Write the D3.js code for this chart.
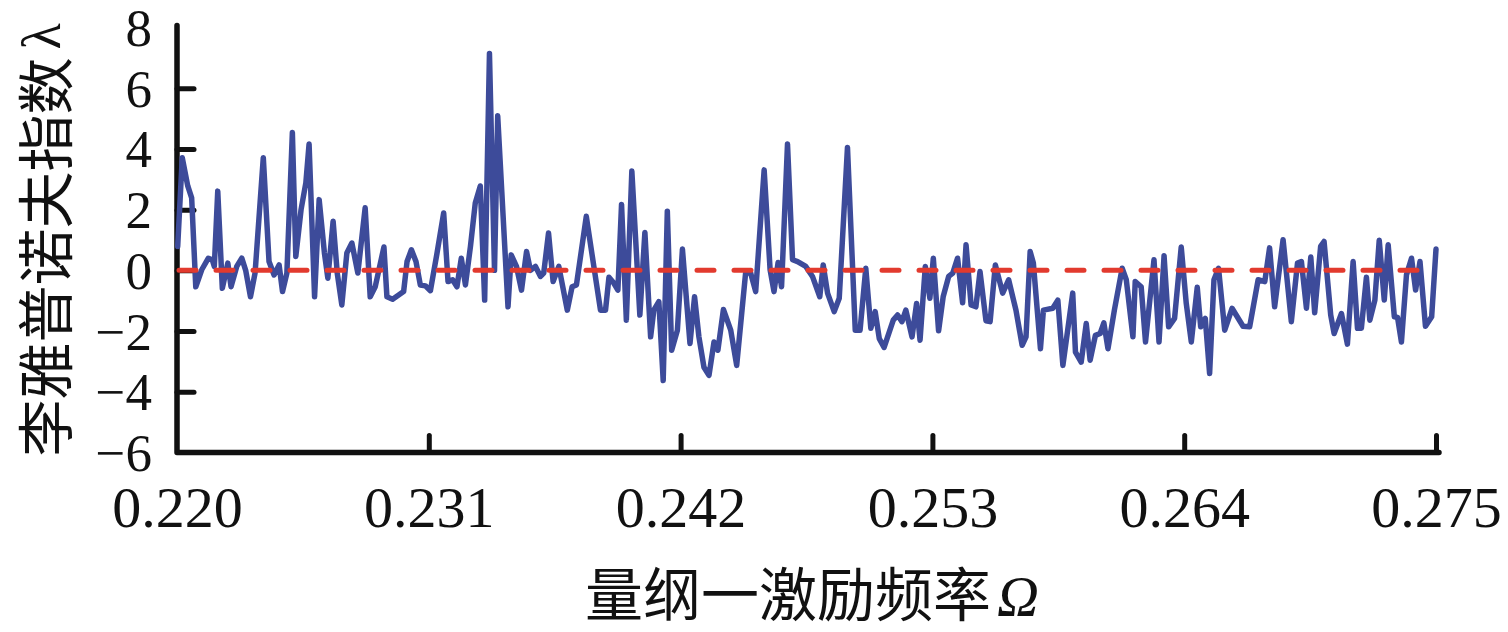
<!DOCTYPE html>
<html>
<head>
<meta charset="utf-8">
<script src="https://cdn.jsdelivr.net/npm/d3@7"></script>
<style>
  html, body { margin: 0; padding: 0; background: #fff; }
  svg { display: block; }
  .serif { font-family: "Liberation Serif", "Times New Roman", "DejaVu Serif", serif; }
  .cjk { font-family: "Noto Sans CJK SC", sans-serif; }
</style>
</head>
<body>
<svg id="chart" width="1508" height="632"></svg>
<script>
// ---- data ----
const omega = [
  0.22003,0.22023,0.22047,0.22064,0.22082,0.22108,0.22137,0.22154,0.22163,0.22178,
  0.22198,0.22222,0.22236,0.22261,0.22283,0.22300,0.22321,0.22341,0.22377,0.22402,
  0.22424,0.22446,0.22461,0.22480,0.22504,0.22519,0.22542,0.22563,0.22577,0.22601,
  0.22621,0.22644,0.22659,0.22682,0.22700,0.22720,0.22742,0.22764,0.22790,0.22822,
  0.22844,0.22866,0.22904,0.22917,0.22942,0.22990,0.23005,0.23024,0.23044,0.23063,
  0.23085,0.23107,0.23136,0.23165,0.23184,0.23204,0.23223,0.23242,0.23260,0.23282,
  0.23303,0.23325,0.23344,0.23365,0.23387,0.23401,0.23446,0.23460,0.23483,0.23505,
  0.23527,0.23544,0.23566,0.23588,0.23602,0.23623,0.23643,0.23668,0.23705,0.23726,
  0.23745,0.23788,0.23821,0.23850,0.23872,0.23887,0.23908,0.23926,0.23942,0.23963,
  0.23987,0.24022,0.24044,0.24069,0.24083,0.24105,0.24124,0.24142,0.24161,0.24186,
  0.24208,0.24241,0.24261,0.24280,0.24302,0.24324,0.24346,0.24363,0.24387,0.24419,
  0.24445,0.24484,0.24506,0.24528,0.24565,0.24591,0.24608,0.24626,0.24641,0.24667,
  0.24689,0.24711,0.24747,0.24776,0.24808,0.24823,0.24842,0.24871,0.24893,0.24929,
  0.24963,0.24984,0.25009,0.25031,0.25050,0.25068,0.25089,0.25129,0.25148,0.25167,
  0.25184,0.25211,0.25231,0.25246,0.25269,0.25289,0.25304,0.25327,0.25347,0.25371,
  0.25389,0.25410,0.25432,0.25447,0.25469,0.25490,0.25508,0.25534,0.25552,0.25575,
  0.25607,0.25633,0.25665,0.25692,0.25709,0.25727,0.25741,0.25772,0.25785,0.25826,
  0.25848,0.25870,0.25913,0.25925,0.25950,0.25972,0.25989,0.26012,0.26033,0.26049,
  0.26067,0.26095,0.26129,0.26147,0.26176,0.26186,0.26212,0.26231,0.26268,0.26290,
  0.26312,0.26332,0.26358,0.26387,0.26409,0.26431,0.26457,0.26472,0.26492,0.26511,
  0.26530,0.26550,0.26577,0.26609,0.26657,0.26686,0.26723,0.26752,0.26773,0.26795,
  0.26832,0.26868,0.26895,0.26912,0.26934,0.26953,0.26970,0.26996,0.27011,0.27040,
  0.27055,0.27087,0.27113,0.27138,0.27157,0.27174,0.27196,0.27211,0.27233,0.27252,
  0.27274,0.27291,0.27318,0.27332,0.27349,0.27371,0.27393,0.27411,0.27430,0.27454,
  0.27481,0.27500
];
const lambda = [
  0.79,3.71,2.78,2.39,-0.54,0.02,0.40,0.35,0.13,2.61,
  -0.59,0.24,-0.54,0.13,0.40,0.00,-0.87,-0.09,3.71,0.29,
  -0.15,0.18,-0.70,-0.09,4.54,0.46,2.00,2.89,4.16,-0.87,
  2.33,0.57,-0.26,1.62,-0.09,-1.14,0.57,0.90,-0.09,2.06,
  -0.87,-0.54,0.77,-0.87,-0.95,-0.70,0.29,0.68,0.29,-0.48,
  -0.51,-0.67,0.57,1.89,-0.37,-0.31,-0.54,0.40,-0.48,0.79,
  2.22,2.78,-0.98,7.14,0.00,5.09,-1.20,0.51,0.13,-0.65,
  0.62,0.00,0.13,-0.20,-0.09,1.23,-0.37,0.13,-1.31,-0.54,
  -0.48,1.78,0.13,-1.31,-1.31,-0.23,-0.42,-0.65,2.17,-1.64,
  3.27,-1.47,1.25,-2.19,-1.31,-1.03,-3.63,1.95,-2.63,-1.97,
  0.70,-2.41,-0.87,-2.19,-3.19,-3.46,-2.36,-2.63,-1.29,-1.97,
  -3.13,-0.09,-0.09,-0.70,3.31,0.02,-0.70,0.26,-0.54,4.16,
  0.35,0.29,0.13,-0.20,-0.87,0.18,-0.75,-1.36,-0.92,4.05,
  -1.97,-1.97,0.07,-1.91,-1.36,-2.25,-2.54,-1.64,-1.47,-1.69,
  -1.31,-2.19,-1.09,-2.30,0.13,-0.92,0.40,-1.99,-0.87,-0.20,
  -0.09,0.40,-1.07,0.84,-1.14,-1.20,-0.04,-1.66,-1.69,0.18,
  -0.75,-0.31,-1.31,-2.47,-2.19,0.62,0.24,-2.58,-1.31,-1.25,
  -0.98,-3.13,-0.75,-2.69,-3.02,-1.75,-2.96,-2.14,-2.08,-1.73,
  -2.58,-1.31,0.07,-0.31,-2.19,-0.37,-0.54,-2.36,0.35,-2.36,
  0.48,-1.86,-1.58,0.77,-1.09,-2.36,-0.56,-1.86,-1.58,-3.40,
  -0.31,0.07,-1.97,-1.25,-1.84,-1.86,-0.31,-0.37,0.74,-1.20,
  1.01,-1.69,0.24,0.29,-1.25,0.44,-1.40,0.79,0.95,-1.47,
  -2.08,-1.42,-2.43,0.29,-1.91,-1.91,-0.23,-1.64,-0.98,0.99,
  -0.98,0.84,-1.53,-1.55,-2.36,-0.15,0.40,-0.65,0.29,-1.84,
  -1.53,0.70
];
const xTicks = [0.220, 0.231, 0.242, 0.253, 0.264, 0.275];
const yTicks = [-6, -4, -2, 0, 2, 4, 6, 8];
const referenceLevel = [0];
const xTitle = "量纲一激励频率";
const xSymbol = "Ω";
const yTitle = "李雅普诺夫指数";
const ySymbol = "λ";

// ---- drawing ----
const svg = d3.select("#chart");
const x = d3.scaleLinear().domain([0.220, 0.275]).range([177, 1436]);
const y = d3.scaleLinear().domain([-6, 8]).range([452.5, 27.5]);

const fmtY = v => (v < 0 ? "\u2212" : "") + Math.abs(v);

// y axis
const gy = svg.append("g").attr("transform", `translate(${x(0.220)},0)`)
  .call(d3.axisLeft(y).tickValues(yTicks).tickFormat(fmtY)
        .tickSize(-17).tickSizeOuter(0).tickPadding(25));
gy.attr("font-family", null).attr("font-size", null);
gy.select(".domain").remove();
gy.selectAll(".tick line").attr("stroke", "#111").attr("stroke-width", 5)
  .attr("stroke-linecap", "round")
  .filter(d => d === 8 || d === -6).remove();
gy.selectAll(".tick text").attr("class", "serif")
  .style("font-size", "53px").attr("fill", "#111").attr("dy", "0.34em");

// x axis
const gx = svg.append("g").attr("transform", `translate(0,${y(-6)})`)
  .call(d3.axisBottom(x).tickValues(xTicks).tickFormat(d3.format(".3f"))
        .tickSize(-17).tickSizeOuter(0).tickPadding(33));
gx.attr("font-family", null).attr("font-size", null);
gx.select(".domain").remove();
gx.selectAll(".tick line").attr("stroke", "#111").attr("stroke-width", 5)
  .attr("stroke-linecap", "round")
  .filter(d => d === 0.220).remove();
gx.selectAll(".tick text").attr("class", "serif")
  .style("font-size", "58px").attr("fill", "#111");

// axis lines
svg.append("path")
  .attr("d", d3.line()([[x(0.220), y(8) - 2], [x(0.220), y(-6)], [x(0.275) + 3, y(-6)]]))
  .attr("fill", "none").attr("stroke", "#111").attr("stroke-width", 5.5)
  .attr("stroke-linejoin", "round").attr("stroke-linecap", "round");

// data line
const pts = omega.map((o, i) => [o, lambda[i]]);
svg.append("path")
  .datum(pts)
  .attr("d", d3.line().x(d => x(d[0])).y(d => y(d[1])))
  .attr("fill", "none").attr("stroke", "#3d4b9a").attr("stroke-width", 5.5)
  .attr("stroke-linejoin", "round").attr("stroke-linecap", "round");

// zero reference line
svg.selectAll(".ref").data(referenceLevel).enter().append("line")
  .attr("x1", x(0.220) + 2).attr("x2", x(0.275))
  .attr("y1", d => y(d)).attr("y2", d => y(d))
  .attr("stroke", "#e23a2e").attr("stroke-width", 5)
  .attr("stroke-dasharray", "17 20").attr("stroke-linecap", "round");

// titles
const yt = svg.append("text")
  .attr("transform", `translate(42,${240}) rotate(-90)`)
  .attr("text-anchor", "middle").attr("dominant-baseline", "central")
  .attr("fill", "#111");
yt.append("tspan").attr("class", "cjk").style("font-size", "57px").text(yTitle);
yt.append("tspan").attr("class", "serif").style("font-size", "54px").attr("dx", 8).text(ySymbol);

const xt = svg.append("text")
  .attr("x", 812).attr("y", 616)
  .attr("text-anchor", "middle").attr("fill", "#111");
xt.append("tspan").attr("class", "cjk").style("font-size", "58px").text(xTitle);
xt.append("tspan").attr("class", "serif").style("font-style", "italic")
  .style("font-size", "58px").attr("dx", 6).text(xSymbol);
</script>
</body>
</html>
